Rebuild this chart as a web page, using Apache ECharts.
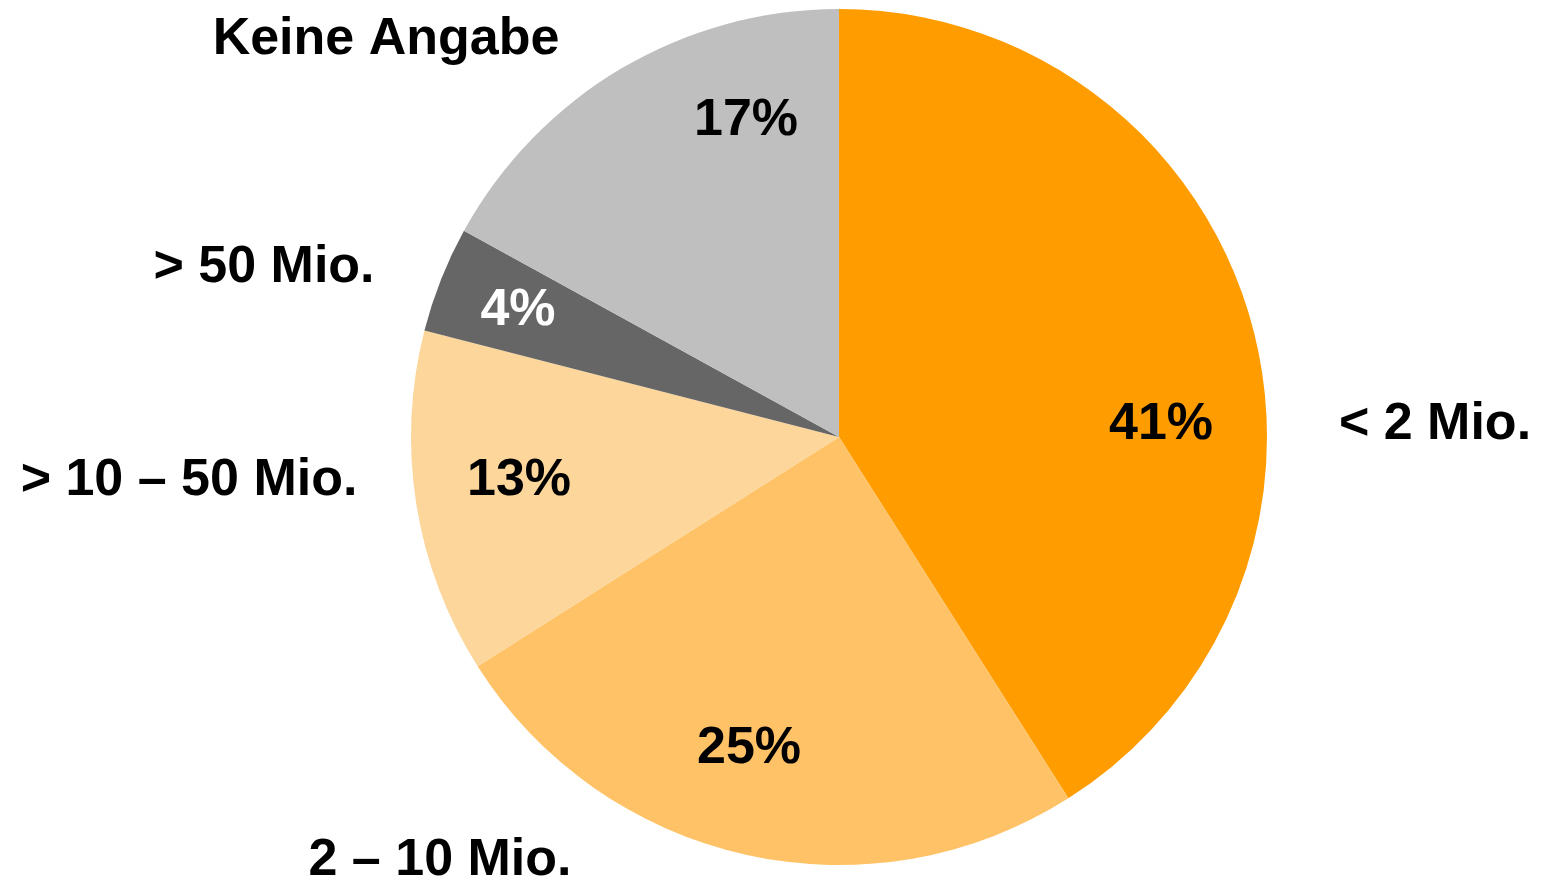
<!DOCTYPE html>
<html lang="de">
<head>
  <meta charset="utf-8">
  <title>Umsatzklassen</title>
  <script src="https://cdn.jsdelivr.net/npm/echarts@6/dist/echarts.min.js"></script>
  <style>
    html, body { margin: 0; padding: 0; background: #fff; }
  </style>
</head>
<body>
<div id="main" style="width:1541px;height:882px;"></div>
<script type="text/javascript">
// Daten
var categories = ['< 2 Mio.', '2 – 10 Mio.', '> 10 – 50 Mio.', '> 50 Mio.', 'Keine Angabe'];
var shares = [41, 25, 13, 4, 17];

// Farben + Beschriftungspositionen
var sliceColors = ['#FF9C00', '#FFC266', '#FCD69A', '#666666', '#BFBFBF'];
var pctColors = ['#000', '#000', '#000', '#fff', '#000'];
var pctPos = [[1161, 425], [749, 749], [519, 481], [518, 311], [746, 121]];
var namePos = [[1435, 425], [440, 861], [189, 481], [264, 268], [386, 40]];

var fontStack = '"Liberation Sans", Arial, Helvetica, sans-serif';

var pieData = [], nameData = [];
for (var i = 0; i < categories.length; i++) {
  pieData.push({
    name: categories[i], value: shares[i],
    itemStyle: { color: sliceColors[i] },
    label: { color: pctColors[i] }
  });
  nameData.push({ name: categories[i], value: shares[i] });
}

var myChart = echarts.init(document.getElementById('main'));
var option = {
  animation: false,
  series: [
    {
      type: 'pie',
      center: [839, 437],
      radius: 428,
      startAngle: 90,
      clockwise: true,
      data: pieData,
      label: {
        show: true,
        position: 'inside',
        formatter: '{c}%',
        fontFamily: fontStack,
        fontWeight: 'bold',
        fontSize: 52
      },
      labelLine: { show: false },
      labelLayout: function (p) {
        return { x: pctPos[p.dataIndex][0], y: pctPos[p.dataIndex][1], align: 'center', verticalAlign: 'middle' };
      },
      emphasis: { disabled: true }
    },
    {
      // nur fuer die Kategorienamen, Segmente unsichtbar
      type: 'pie',
      center: [839, 437],
      radius: 428,
      startAngle: 90,
      silent: true,
      data: nameData,
      itemStyle: { color: 'rgba(0,0,0,0)' },
      label: {
        show: true,
        position: 'outside',
        formatter: '{b}',
        color: '#000',
        fontFamily: fontStack,
        fontWeight: 'bold',
        fontSize: 52
      },
      labelLine: { show: false },
      labelLayout: function (p) {
        return { x: namePos[p.dataIndex][0], y: namePos[p.dataIndex][1], align: 'center', verticalAlign: 'middle' };
      },
      emphasis: { disabled: true }
    }
  ]
};
myChart.setOption(option);
</script>
</body>
</html>
